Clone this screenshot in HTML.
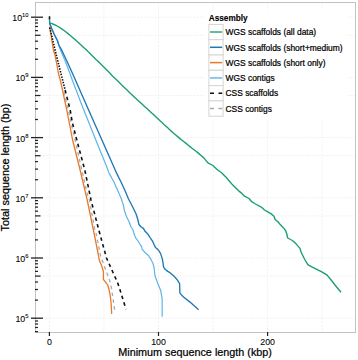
<!DOCTYPE html>
<html><head><meta charset="utf-8"><style>
html,body{margin:0;padding:0;background:#fff;}
body{width:358px;height:360px;overflow:hidden;position:relative;}
svg{position:absolute;left:0;top:0;}
text{font-family:"Liberation Sans",sans-serif;fill:#000;stroke:#000;stroke-width:0.22px;}
</style></head><body>
<svg width="358" height="360" viewBox="0 0 358 360">
<rect x="0" y="0" width="358" height="360" fill="#fff"/>

<g stroke="#f3f3f3" stroke-width="1" stroke-dasharray="2.5 1"><line x1="49.4" y1="2.5" x2="49.4" y2="332" /><line x1="103.9" y1="2.5" x2="103.9" y2="332" /><line x1="158.5" y1="2.5" x2="158.5" y2="332" /><line x1="213.1" y1="2.5" x2="213.1" y2="332" /><line x1="267.6" y1="2.5" x2="267.6" y2="332" /><line x1="322.1" y1="2.5" x2="322.1" y2="332" /><line x1="35.5" y1="318.2" x2="355" y2="318.2" /><line x1="35.5" y1="276.1" x2="355" y2="276.1" /><line x1="35.5" y1="258.0" x2="355" y2="258.0" /><line x1="35.5" y1="215.9" x2="355" y2="215.9" /><line x1="35.5" y1="197.8" x2="355" y2="197.8" /><line x1="35.5" y1="155.7" x2="355" y2="155.7" /><line x1="35.5" y1="137.6" x2="355" y2="137.6" /><line x1="35.5" y1="95.5" x2="355" y2="95.5" /><line x1="35.5" y1="77.4" x2="355" y2="77.4" /><line x1="35.5" y1="35.3" x2="355" y2="35.3" /><line x1="35.5" y1="17.2" x2="355" y2="17.2" /></g>
<rect x="35.5" y="2.5" width="320" height="330" fill="none" stroke="#c2c2c2" stroke-width="1"/>
<g stroke="#222"><line x1="31" y1="318.2" x2="43" y2="318.2" stroke-width="1.3"/><line x1="35" y1="331.6" x2="38" y2="331.6" stroke-width="1.25"/><line x1="35" y1="327.5" x2="38" y2="327.5" stroke-width="1.25"/><line x1="35" y1="324.0" x2="38" y2="324.0" stroke-width="1.25"/><line x1="35" y1="321.0" x2="38" y2="321.0" stroke-width="1.25"/><line x1="31" y1="258.0" x2="43" y2="258.0" stroke-width="1.3"/><line x1="35" y1="300.1" x2="38" y2="300.1" stroke-width="1.25"/><line x1="35" y1="289.5" x2="38" y2="289.5" stroke-width="1.25"/><line x1="35" y1="282.0" x2="38" y2="282.0" stroke-width="1.25"/><line x1="35" y1="276.1" x2="40.5" y2="276.1" stroke-width="1.25"/><line x1="35" y1="271.4" x2="38" y2="271.4" stroke-width="1.25"/><line x1="35" y1="267.3" x2="38" y2="267.3" stroke-width="1.25"/><line x1="35" y1="263.8" x2="38" y2="263.8" stroke-width="1.25"/><line x1="35" y1="260.8" x2="38" y2="260.8" stroke-width="1.25"/><line x1="31" y1="197.8" x2="43" y2="197.8" stroke-width="1.3"/><line x1="35" y1="239.9" x2="38" y2="239.9" stroke-width="1.25"/><line x1="35" y1="229.3" x2="38" y2="229.3" stroke-width="1.25"/><line x1="35" y1="221.8" x2="38" y2="221.8" stroke-width="1.25"/><line x1="35" y1="215.9" x2="40.5" y2="215.9" stroke-width="1.25"/><line x1="35" y1="211.2" x2="38" y2="211.2" stroke-width="1.25"/><line x1="35" y1="207.1" x2="38" y2="207.1" stroke-width="1.25"/><line x1="35" y1="203.6" x2="38" y2="203.6" stroke-width="1.25"/><line x1="35" y1="200.6" x2="38" y2="200.6" stroke-width="1.25"/><line x1="31" y1="137.6" x2="43" y2="137.6" stroke-width="1.3"/><line x1="35" y1="179.7" x2="38" y2="179.7" stroke-width="1.25"/><line x1="35" y1="169.1" x2="38" y2="169.1" stroke-width="1.25"/><line x1="35" y1="161.6" x2="38" y2="161.6" stroke-width="1.25"/><line x1="35" y1="155.7" x2="40.5" y2="155.7" stroke-width="1.25"/><line x1="35" y1="151.0" x2="38" y2="151.0" stroke-width="1.25"/><line x1="35" y1="146.9" x2="38" y2="146.9" stroke-width="1.25"/><line x1="35" y1="143.4" x2="38" y2="143.4" stroke-width="1.25"/><line x1="35" y1="140.4" x2="38" y2="140.4" stroke-width="1.25"/><line x1="31" y1="77.4" x2="43" y2="77.4" stroke-width="1.3"/><line x1="35" y1="119.5" x2="38" y2="119.5" stroke-width="1.25"/><line x1="35" y1="108.9" x2="38" y2="108.9" stroke-width="1.25"/><line x1="35" y1="101.4" x2="38" y2="101.4" stroke-width="1.25"/><line x1="35" y1="95.5" x2="40.5" y2="95.5" stroke-width="1.25"/><line x1="35" y1="90.8" x2="38" y2="90.8" stroke-width="1.25"/><line x1="35" y1="86.7" x2="38" y2="86.7" stroke-width="1.25"/><line x1="35" y1="83.2" x2="38" y2="83.2" stroke-width="1.25"/><line x1="35" y1="80.2" x2="38" y2="80.2" stroke-width="1.25"/><line x1="31" y1="17.2" x2="43" y2="17.2" stroke-width="1.3"/><line x1="35" y1="59.3" x2="38" y2="59.3" stroke-width="1.25"/><line x1="35" y1="48.7" x2="38" y2="48.7" stroke-width="1.25"/><line x1="35" y1="41.2" x2="38" y2="41.2" stroke-width="1.25"/><line x1="35" y1="35.3" x2="40.5" y2="35.3" stroke-width="1.25"/><line x1="35" y1="30.6" x2="38" y2="30.6" stroke-width="1.25"/><line x1="35" y1="26.5" x2="38" y2="26.5" stroke-width="1.25"/><line x1="35" y1="23.0" x2="38" y2="23.0" stroke-width="1.25"/><line x1="35" y1="20.0" x2="38" y2="20.0" stroke-width="1.25"/><line x1="49.4" y1="332" x2="49.4" y2="336" stroke-width="1.2"/><line x1="158.5" y1="332" x2="158.5" y2="336" stroke-width="1.2"/><line x1="267.6" y1="332" x2="267.6" y2="336" stroke-width="1.2"/></g>
<text x="28.5" y="322.1" font-size="8.8" text-anchor="end" style="stroke-width:0.08px">10<tspan dy="-4.0" font-size="5.8">5</tspan></text><text x="28.5" y="261.9" font-size="8.8" text-anchor="end" style="stroke-width:0.08px">10<tspan dy="-4.0" font-size="5.8">6</tspan></text><text x="28.5" y="201.7" font-size="8.8" text-anchor="end" style="stroke-width:0.08px">10<tspan dy="-4.0" font-size="5.8">7</tspan></text><text x="28.5" y="141.5" font-size="8.8" text-anchor="end" style="stroke-width:0.08px">10<tspan dy="-4.0" font-size="5.8">8</tspan></text><text x="28.5" y="81.3" font-size="8.8" text-anchor="end" style="stroke-width:0.08px">10<tspan dy="-4.0" font-size="5.8">9</tspan></text><text x="28.5" y="21.1" font-size="8.8" text-anchor="end" style="stroke-width:0.08px">10<tspan dy="-4.0" font-size="5.8">10</tspan></text><text x="49.4" y="345.2" font-size="8.8" text-anchor="middle" style="stroke-width:0.08px">0</text><text x="158.5" y="345.2" font-size="8.8" text-anchor="middle" style="stroke-width:0.08px">100</text><text x="267.6" y="345.2" font-size="8.8" text-anchor="middle" style="stroke-width:0.08px">200</text><text x="195.1" y="355.6" font-size="10.8" text-anchor="middle">Minimum sequence length (kbp)</text><text transform="translate(9.4,167.5) rotate(-90)" x="0" y="0" font-size="10.85" text-anchor="middle">Total sequence length (bp)</text>
<g fill="none" stroke-linejoin="round" stroke-linecap="butt" stroke-width="1.2">
<polyline points="49.5,23.0 51.7,28.4 54.2,34.3 57.6,41.0 58.8,45.0 60.5,50.0 65.5,61.8 70.5,75.0 72.3,80.0 81.8,105.0 93.8,135.0 106.0,165.0 109.2,173.4 113.8,181.8 118.4,192.0 121.3,198.7 123.4,205.4 124.6,211.3 126.7,217.1 129.2,222.0 130.9,226.7 133.0,230.0 134.2,234.3 135.5,237.6 138.0,241.0 140.1,244.3 141.8,246.8 142.1,249.2 145.0,252.5 148.4,255.5 150.9,259.2 153.0,263.4 154.2,268.5 155.0,275.8 157.8,283.6 160.6,290.3 162.1,298.2 162.2,316.8" stroke="#5db4e6"/>
<polyline points="49.5,19.0 49.7,22.9 50.6,23.2 52.0,23.7 54.0,24.5 56.0,25.4 58.0,26.5 60.0,27.7 62.0,29.1 64.0,30.5 66.0,32.0 68.0,33.6 70.0,35.3 72.0,37.0 74.0,38.7 76.0,40.4 78.0,42.2 80.0,44.1 82.0,45.9 84.0,47.8 86.0,49.6 88.0,51.6 90.0,53.5 92.0,55.4 94.0,57.4 96.0,59.4 98.0,61.3 100.0,63.3 102.0,65.3 104.0,67.3 106.0,69.3 108.0,71.3 110.0,73.3 112.0,75.4 114.0,77.4 116.0,79.3 118.0,81.3 120.0,83.3 122.0,85.3 124.0,87.2 126.0,89.1 128.0,91.1 130.0,93.0 132.0,94.8 134.0,96.7 136.0,98.6 138.0,100.4 140.0,102.3 142.0,104.1 144.0,106.0 146.0,107.8 148.0,109.6 150.0,111.5 152.0,113.3 154.0,115.1 156.0,117.0 158.0,118.8 160.0,120.7 162.0,122.5 164.0,124.4 166.0,126.2 168.0,128.1 170.0,129.9 172.0,131.7 174.0,133.5 176.0,135.2 178.0,136.9 180.0,138.6 182.0,140.2 184.0,141.8 186.0,143.4 188.0,145.0 190.0,146.6 192.0,148.2 194.0,149.7 196.0,151.3 198.0,152.9 200.0,154.6 202.0,156.3 204.0,158.1 207.9,162.9 212.9,165.5 216.8,169.3 221.8,173.0 225.8,176.9 228.4,180.0 232.8,185.1 238.4,190.6 241.8,193.4 244.6,196.2 249.0,198.5 251.3,201.3 254.6,203.5 260.8,206.8 262.2,207.8 264.5,210.0 267.8,211.9 271.2,213.9 274.0,216.2 275.1,219.5 277.9,221.8 280.7,225.1 283.5,227.9 285.7,230.7 286.8,234.0 287.7,238.0 292.4,240.5 296.3,244.1 300.0,248.4 301.1,252.3 304.5,259.0 307.8,264.6 311.8,266.8 317.3,269.6 321.8,271.8 327.1,275.1 330.9,279.7 336.8,287.2 341.0,292.2" stroke="#1b9e77" stroke-width="1.4"/>
<polyline points="49.5,23.0 51.7,28.4 54.2,34.3 57.6,41.0 58.8,45.0 61.3,49.3 67.2,61.8 73.2,75.0 75.4,80.0 86.4,105.0 99.7,135.0 113.0,165.0 116.7,173.4 120.9,181.8 125.5,191.8 128.4,198.7 132.6,206.7 136.0,213.8 138.0,220.0 138.8,224.2 140.9,226.7 143.4,228.4 145.1,231.3 148.0,234.3 150.1,237.6 152.7,241.4 154.3,245.1 155.5,247.5 158.4,250.0 160.5,253.4 162.2,258.4 163.1,263.4 163.5,266.8 165.1,269.3 167.7,271.4 170.0,272.7 173.5,275.8 176.8,279.2 179.6,283.6 179.9,293.1 183.5,297.0 190.0,302.1 198.6,309.7" stroke="#1f78b4" stroke-width="1.35"/>
<polyline points="49.6,26.7 51.3,36.8 53.4,50.0 55.0,55.0 58.8,75.0 60.3,80.0 66.8,110.0 72.6,140.0 80.1,170.0 87.2,200.0 93.4,230.0 98.4,255.0 99.2,260.0 101.7,265.9 103.4,271.8 103.4,279.3 107.6,284.8 109.2,290.0 110.5,297.6 111.3,306.0 111.7,313.9" stroke="#e8782a" stroke-width="1.3"/>
<polyline points="63.6,90.0 65.5,99.3 67.6,106.8 72.2,128.0 75.1,140.0 81.8,170.0 88.0,197.0 89.4,200.0 94.8,230.0 95.8,232.0 100.4,255.0 101.7,258.8 110.1,281.8 111.3,287.1 114.7,310.1" stroke="#a8a8a8" stroke-width="1.3" stroke-dasharray="3.5 3.4" stroke-dashoffset="5.2"/>
<polyline points="49.6,27.5 50.4,30.0 55.0,49.8 61.3,75.0 62.6,80.0 65.1,90.0" stroke="#111" stroke-width="1.6" stroke-dasharray="1.5 1.3"/>
<polyline points="65.1,90.0 70.2,110.0 72.2,122.0 76.8,140.0 84.8,170.0 91.0,200.0 98.8,230.0 106.5,258.0 117.6,282.7 119.3,287.5 126.0,309.3" stroke="#111" stroke-width="1.6" stroke-dasharray="3.5 3.4"/>
<line x1="49.5" y1="16.3" x2="49.5" y2="19.3" stroke="#111" stroke-width="1.6"/>
</g>
<rect x="204.5" y="10.5" width="143" height="109" fill="#fff"/><text x="208.7" y="20.9" font-size="8.25" font-weight="bold" style="stroke-width:0.1px">Assembly</text><rect x="208.9" y="24.4" width="14.2" height="15.3" fill="#fff" stroke="#d4d4d4" stroke-width="1"/><line x1="210" y1="32.0" x2="222.2" y2="32.0" stroke="#5cbf98" stroke-width="2.0"/><text x="225.5" y="35.2" font-size="8.44">WGS scaffolds (all data)</text><rect x="208.9" y="39.7" width="14.2" height="15.3" fill="#fff" stroke="#d4d4d4" stroke-width="1"/><line x1="210" y1="47.3" x2="222.2" y2="47.3" stroke="#1f78b4" stroke-width="1.5"/><text x="225.5" y="50.5" font-size="8.44">WGS scaffolds (short+medium)</text><rect x="208.9" y="55.0" width="14.2" height="15.3" fill="#fff" stroke="#d4d4d4" stroke-width="1"/><line x1="210" y1="62.6" x2="222.2" y2="62.6" stroke="#e8782a" stroke-width="1.5"/><text x="225.5" y="65.8" font-size="8.44">WGS scaffolds (short only)</text><rect x="208.9" y="70.3" width="14.2" height="15.3" fill="#fff" stroke="#d4d4d4" stroke-width="1"/><line x1="210" y1="77.9" x2="222.2" y2="77.9" stroke="#86c8ef" stroke-width="2.0"/><text x="225.5" y="81.1" font-size="8.44">WGS contigs</text><rect x="208.9" y="85.6" width="14.2" height="15.3" fill="#fff" stroke="#d4d4d4" stroke-width="1"/><line x1="210" y1="93.2" x2="222.2" y2="93.2" stroke="#111" stroke-width="1.6" stroke-dasharray="4 4.5"/><text x="225.5" y="96.4" font-size="8.44">CSS scaffolds</text><rect x="208.9" y="100.9" width="14.2" height="15.3" fill="#fff" stroke="#d4d4d4" stroke-width="1"/><line x1="210" y1="108.5" x2="222.2" y2="108.5" stroke="#a8a8a8" stroke-width="1.3" stroke-dasharray="4 4.5"/><text x="225.5" y="111.7" font-size="8.44">CSS contigs</text>
</svg></body></html>
